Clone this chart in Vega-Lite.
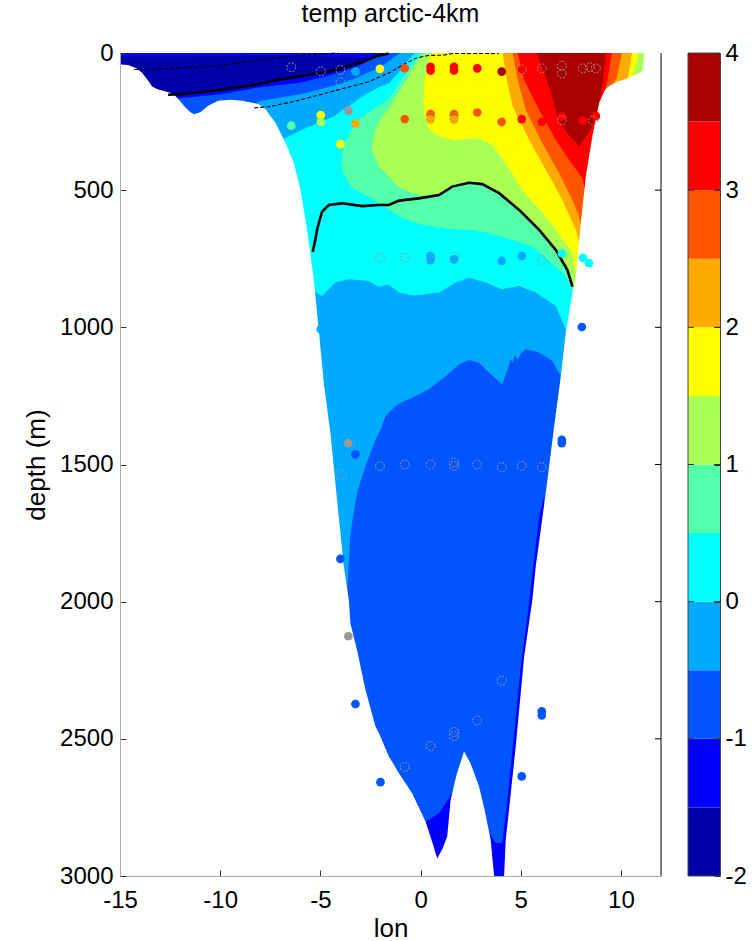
{
  "$schema": "https://vega.github.io/schema/vega-lite/v6.json",
  "background": "white",
  "padding": {"left": 23, "top": 2, "right": 0, "bottom": 0},
  "config": {"view": {"stroke": null}, "font": "Liberation Sans"},
  "datasets": {
    "bands": [
      {"b": "base", "lon": -15, "top": 0, "bot": 3000},
      {"b": "base", "lon": 11.17, "top": 0, "bot": 3000},
      {"b": "m1", "lon": -12.8, "top": 175, "bot": 3000},
      {"b": "m1", "lon": -12, "top": 165, "bot": 3000},
      {"b": "m1", "lon": -10, "top": 150, "bot": 3000},
      {"b": "m1", "lon": -8, "top": 125, "bot": 3000},
      {"b": "m1", "lon": -6, "top": 108, "bot": 3000},
      {"b": "m1", "lon": -5, "top": 90, "bot": 3000},
      {"b": "m1", "lon": -4, "top": 70, "bot": 3000},
      {"b": "m1", "lon": -3, "top": 45, "bot": 3000},
      {"b": "m1", "lon": -2.4, "top": 20, "bot": 3000},
      {"b": "m1", "lon": -1.8, "top": 0, "bot": 3000},
      {"b": "m1", "lon": 0.2, "top": 0, "bot": 3000},
      {"b": "m1", "lon": 0.25, "top": 0, "bot": 2802},
      {"b": "m1", "lon": 0.92, "top": 0, "bot": 2771},
      {"b": "m1", "lon": 1.5, "top": 0, "bot": 2707},
      {"b": "m1", "lon": 1.92, "top": 0, "bot": 2650},
      {"b": "m1", "lon": 2.17, "top": 0, "bot": 2640},
      {"b": "m1", "lon": 2.5, "top": 0, "bot": 2668},
      {"b": "m1", "lon": 2.92, "top": 0, "bot": 2747},
      {"b": "m1", "lon": 3.42, "top": 0, "bot": 2844},
      {"b": "m1", "lon": 3.75, "top": 0, "bot": 2880},
      {"b": "m1", "lon": 4.08, "top": 0, "bot": 2880},
      {"b": "m1", "lon": 4.33, "top": 0, "bot": 2723},
      {"b": "m1", "lon": 4.67, "top": 0, "bot": 2479},
      {"b": "m1", "lon": 5.0, "top": 0, "bot": 2236},
      {"b": "m1", "lon": 5.33, "top": 0, "bot": 2054},
      {"b": "m1", "lon": 5.92, "top": 0, "bot": 1688},
      {"b": "m1", "lon": 6.17, "top": 0, "bot": 1615},
      {"b": "m1", "lon": 6.25, "top": 0, "bot": 3000},
      {"b": "m1", "lon": 11.17, "top": 0, "bot": 3000},
      {"b": "m05", "lon": -8.6, "top": 200, "bot": 3000},
      {"b": "m05", "lon": -8.0, "top": 175, "bot": 3000},
      {"b": "m05", "lon": -7, "top": 162, "bot": 3000},
      {"b": "m05", "lon": -6, "top": 150, "bot": 3000},
      {"b": "m05", "lon": -5, "top": 132, "bot": 3000},
      {"b": "m05", "lon": -4, "top": 112, "bot": 3000},
      {"b": "m05", "lon": -3.7, "top": 104, "bot": 3000},
      {"b": "m05", "lon": -3.65, "top": 102, "bot": 1950},
      {"b": "m05", "lon": -3.5, "top": 98, "bot": 1749},
      {"b": "m05", "lon": -3.17, "top": 90, "bot": 1603},
      {"b": "m05", "lon": -2.75, "top": 75, "bot": 1506},
      {"b": "m05", "lon": -2.25, "top": 60, "bot": 1409},
      {"b": "m05", "lon": -2.0, "top": 50, "bot": 1375},
      {"b": "m05", "lon": -1.75, "top": 38, "bot": 1323},
      {"b": "m05", "lon": -1.5, "top": 25, "bot": 1305},
      {"b": "m05", "lon": -1.25, "top": 12, "bot": 1287},
      {"b": "m05", "lon": -1.0, "top": 0, "bot": 1275},
      {"b": "m05", "lon": -0.42, "top": 0, "bot": 1257},
      {"b": "m05", "lon": 0.42, "top": 0, "bot": 1226},
      {"b": "m05", "lon": 1.25, "top": 0, "bot": 1178},
      {"b": "m05", "lon": 1.92, "top": 0, "bot": 1135},
      {"b": "m05", "lon": 2.42, "top": 0, "bot": 1119},
      {"b": "m05", "lon": 2.92, "top": 0, "bot": 1129},
      {"b": "m05", "lon": 3.42, "top": 0, "bot": 1166},
      {"b": "m05", "lon": 4.08, "top": 0, "bot": 1208},
      {"b": "m05", "lon": 4.4, "top": 0, "bot": 1140},
      {"b": "m05", "lon": 4.5, "top": 0, "bot": 1115},
      {"b": "m05", "lon": 4.6, "top": 0, "bot": 1128},
      {"b": "m05", "lon": 4.7, "top": 0, "bot": 1100},
      {"b": "m05", "lon": 4.85, "top": 0, "bot": 1118},
      {"b": "m05", "lon": 5.0, "top": 0, "bot": 1095},
      {"b": "m05", "lon": 5.25, "top": 0, "bot": 1080},
      {"b": "m05", "lon": 5.92, "top": 0, "bot": 1092},
      {"b": "m05", "lon": 6.58, "top": 0, "bot": 1123},
      {"b": "m05", "lon": 7.0, "top": 0, "bot": 1178},
      {"b": "m05", "lon": 7.05, "top": 0, "bot": 3000},
      {"b": "m05", "lon": 11.17, "top": 0, "bot": 3000},
      {"b": "z0", "lon": -7.3, "top": 340, "bot": 3000},
      {"b": "z0", "lon": -6.92, "top": 317, "bot": 3000},
      {"b": "z0", "lon": -6.3, "top": 293, "bot": 3000},
      {"b": "z0", "lon": -5.58, "top": 269, "bot": 3000},
      {"b": "z0", "lon": -5.35, "top": 262, "bot": 3000},
      {"b": "z0", "lon": -5.28, "top": 260, "bot": 870},
      {"b": "z0", "lon": -4.92, "top": 250, "bot": 886},
      {"b": "z0", "lon": -4.25, "top": 228, "bot": 837},
      {"b": "z0", "lon": -3.92, "top": 208, "bot": 830},
      {"b": "z0", "lon": -3.58, "top": 195, "bot": 825},
      {"b": "z0", "lon": -2.92, "top": 159, "bot": 828},
      {"b": "z0", "lon": -2.58, "top": 145, "bot": 831},
      {"b": "z0", "lon": -2.08, "top": 125, "bot": 852},
      {"b": "z0", "lon": -1.58, "top": 110, "bot": 845},
      {"b": "z0", "lon": -1.08, "top": 70, "bot": 873},
      {"b": "z0", "lon": -0.6, "top": 25, "bot": 880},
      {"b": "z0", "lon": -0.3, "top": 0, "bot": 884},
      {"b": "z0", "lon": 0.92, "top": 0, "bot": 873},
      {"b": "z0", "lon": 1.75, "top": 0, "bot": 837},
      {"b": "z0", "lon": 2.42, "top": 0, "bot": 819},
      {"b": "z0", "lon": 3.25, "top": 0, "bot": 837},
      {"b": "z0", "lon": 4.08, "top": 0, "bot": 861},
      {"b": "z0", "lon": 4.92, "top": 0, "bot": 849},
      {"b": "z0", "lon": 5.75, "top": 0, "bot": 873},
      {"b": "z0", "lon": 6.75, "top": 0, "bot": 922},
      {"b": "z0", "lon": 7.25, "top": 0, "bot": 1007},
      {"b": "z0", "lon": 7.3, "top": 0, "bot": 3000},
      {"b": "z0", "lon": 11.17, "top": 0, "bot": 3000},
      {"b": "p05", "lon": -3.95, "top": 405, "bot": 405},
      {"b": "p05", "lon": -3.9, "top": 360, "bot": 430},
      {"b": "p05", "lon": -3.8, "top": 330, "bot": 445},
      {"b": "p05", "lon": -3.58, "top": 300, "bot": 475},
      {"b": "p05", "lon": -3.4, "top": 275, "bot": 492},
      {"b": "p05", "lon": -2.92, "top": 232, "bot": 512},
      {"b": "p05", "lon": -2.58, "top": 215, "bot": 524},
      {"b": "p05", "lon": -2.0, "top": 190, "bot": 552},
      {"b": "p05", "lon": -1.58, "top": 165, "bot": 570},
      {"b": "p05", "lon": -1.1, "top": 115, "bot": 595},
      {"b": "p05", "lon": -0.6, "top": 60, "bot": 610},
      {"b": "p05", "lon": -0.2, "top": 15, "bot": 620},
      {"b": "p05", "lon": 0.0, "top": 0, "bot": 625},
      {"b": "p05", "lon": 1.25, "top": 0, "bot": 640},
      {"b": "p05", "lon": 2.58, "top": 0, "bot": 645},
      {"b": "p05", "lon": 3.42, "top": 0, "bot": 657},
      {"b": "p05", "lon": 4.58, "top": 0, "bot": 681},
      {"b": "p05", "lon": 5.58, "top": 0, "bot": 705},
      {"b": "p05", "lon": 6.58, "top": 0, "bot": 766},
      {"b": "p05", "lon": 7.25, "top": 0, "bot": 815},
      {"b": "p05", "lon": 7.58, "top": 0, "bot": 863},
      {"b": "p05", "lon": 7.65, "top": 0, "bot": 3000},
      {"b": "p05", "lon": 11.17, "top": 0, "bot": 3000},
      {"b": "p1", "lon": -2.42, "top": 345, "bot": 345},
      {"b": "p1", "lon": -2.35, "top": 300, "bot": 370},
      {"b": "p1", "lon": -2.25, "top": 281, "bot": 385},
      {"b": "p1", "lon": -2.08, "top": 250, "bot": 414},
      {"b": "p1", "lon": -1.58, "top": 202, "bot": 451},
      {"b": "p1", "lon": -1.1, "top": 145, "bot": 488},
      {"b": "p1", "lon": -0.6, "top": 85, "bot": 505},
      {"b": "p1", "lon": -0.2, "top": 35, "bot": 515},
      {"b": "p1", "lon": 0.25, "top": 0, "bot": 520},
      {"b": "p1", "lon": 0.92, "top": 0, "bot": 515},
      {"b": "p1", "lon": 1.58, "top": 0, "bot": 487},
      {"b": "p1", "lon": 2.42, "top": 0, "bot": 473},
      {"b": "p1", "lon": 3.08, "top": 0, "bot": 478},
      {"b": "p1", "lon": 3.92, "top": 0, "bot": 511},
      {"b": "p1", "lon": 4.92, "top": 0, "bot": 572},
      {"b": "p1", "lon": 5.92, "top": 0, "bot": 645},
      {"b": "p1", "lon": 6.75, "top": 0, "bot": 718},
      {"b": "p1", "lon": 7.33, "top": 0, "bot": 791},
      {"b": "p1", "lon": 7.6, "top": 0, "bot": 850},
      {"b": "p1", "lon": 7.65, "top": 0, "bot": 3000},
      {"b": "p1", "lon": 11.17, "top": 0, "bot": 3000},
      {"b": "p15", "lon": 0.15, "top": 180, "bot": 180},
      {"b": "p15", "lon": 0.2, "top": 100, "bot": 225},
      {"b": "p15", "lon": 0.3, "top": 55, "bot": 255},
      {"b": "p15", "lon": 0.4, "top": 30, "bot": 272},
      {"b": "p15", "lon": 0.55, "top": 0, "bot": 285},
      {"b": "p15", "lon": 1.0, "top": 0, "bot": 305},
      {"b": "p15", "lon": 1.6, "top": 0, "bot": 317},
      {"b": "p15", "lon": 2.9, "top": 0, "bot": 311},
      {"b": "p15", "lon": 3.6, "top": 0, "bot": 335},
      {"b": "p15", "lon": 4.25, "top": 0, "bot": 402},
      {"b": "p15", "lon": 5.08, "top": 0, "bot": 499},
      {"b": "p15", "lon": 6.25, "top": 0, "bot": 596},
      {"b": "p15", "lon": 7.25, "top": 0, "bot": 694},
      {"b": "p15", "lon": 7.6, "top": 0, "bot": 730},
      {"b": "p15", "lon": 7.8, "top": 0, "bot": 830},
      {"b": "p15", "lon": 8.0, "top": 0, "bot": 700},
      {"b": "p15", "lon": 8.25, "top": 0, "bot": 520},
      {"b": "p15", "lon": 8.6, "top": 0, "bot": 350},
      {"b": "p15", "lon": 8.9, "top": 0, "bot": 230},
      {"b": "p15", "lon": 9.4, "top": 0, "bot": 160},
      {"b": "p15", "lon": 10.25, "top": 0, "bot": 130},
      {"b": "p15", "lon": 10.6, "top": 0, "bot": 80},
      {"b": "p15", "lon": 10.9, "top": 0, "bot": 0},
      {"b": "p2", "lon": 4.1, "top": 0, "bot": 0},
      {"b": "p2", "lon": 4.3, "top": 0, "bot": 98},
      {"b": "p2", "lon": 4.6, "top": 0, "bot": 196},
      {"b": "p2", "lon": 5.42, "top": 0, "bot": 317},
      {"b": "p2", "lon": 6.25, "top": 0, "bot": 426},
      {"b": "p2", "lon": 7.08, "top": 0, "bot": 536},
      {"b": "p2", "lon": 7.75, "top": 0, "bot": 645},
      {"b": "p2", "lon": 7.95, "top": 0, "bot": 700},
      {"b": "p2", "lon": 8.25, "top": 0, "bot": 520},
      {"b": "p2", "lon": 8.58, "top": 0, "bot": 350},
      {"b": "p2", "lon": 8.92, "top": 0, "bot": 230},
      {"b": "p2", "lon": 9.42, "top": 0, "bot": 160},
      {"b": "p2", "lon": 10.25, "top": 0, "bot": 125},
      {"b": "p2", "lon": 10.4, "top": 0, "bot": 70},
      {"b": "p2", "lon": 10.55, "top": 0, "bot": 0},
      {"b": "p25", "lon": 4.6, "top": 0, "bot": 0},
      {"b": "p25", "lon": 4.85, "top": 0, "bot": 98},
      {"b": "p25", "lon": 5.25, "top": 0, "bot": 208},
      {"b": "p25", "lon": 6.08, "top": 0, "bot": 329},
      {"b": "p25", "lon": 6.92, "top": 0, "bot": 439},
      {"b": "p25", "lon": 7.58, "top": 0, "bot": 536},
      {"b": "p25", "lon": 7.92, "top": 0, "bot": 597},
      {"b": "p25", "lon": 8.05, "top": 0, "bot": 640},
      {"b": "p25", "lon": 8.25, "top": 0, "bot": 500},
      {"b": "p25", "lon": 8.58, "top": 0, "bot": 330},
      {"b": "p25", "lon": 8.92, "top": 0, "bot": 210},
      {"b": "p25", "lon": 9.42, "top": 0, "bot": 140},
      {"b": "p25", "lon": 9.8, "top": 0, "bot": 90},
      {"b": "p25", "lon": 10.05, "top": 0, "bot": 0},
      {"b": "p3", "lon": 4.85, "top": 0, "bot": 0},
      {"b": "p3", "lon": 5.17, "top": 0, "bot": 98},
      {"b": "p3", "lon": 5.92, "top": 0, "bot": 208},
      {"b": "p3", "lon": 6.75, "top": 0, "bot": 317},
      {"b": "p3", "lon": 7.42, "top": 0, "bot": 390},
      {"b": "p3", "lon": 8.08, "top": 0, "bot": 457},
      {"b": "p3", "lon": 8.2, "top": 0, "bot": 500},
      {"b": "p3", "lon": 8.58, "top": 0, "bot": 320},
      {"b": "p3", "lon": 8.92, "top": 0, "bot": 195},
      {"b": "p3", "lon": 9.25, "top": 0, "bot": 125},
      {"b": "p3", "lon": 9.4, "top": 0, "bot": 70},
      {"b": "p3", "lon": 9.55, "top": 0, "bot": 0},
      {"b": "p35", "lon": 5.8, "top": 0, "bot": 0},
      {"b": "p35", "lon": 6.08, "top": 0, "bot": 55},
      {"b": "p35", "lon": 6.5, "top": 0, "bot": 140},
      {"b": "p35", "lon": 6.85, "top": 0, "bot": 240},
      {"b": "p35", "lon": 7.4, "top": 0, "bot": 300},
      {"b": "p35", "lon": 7.92, "top": 0, "bot": 340},
      {"b": "p35", "lon": 8.4, "top": 0, "bot": 290},
      {"b": "p35", "lon": 8.75, "top": 0, "bot": 240},
      {"b": "p35", "lon": 9.0, "top": 0, "bot": 150},
      {"b": "p35", "lon": 9.15, "top": 0, "bot": 70},
      {"b": "p35", "lon": 9.25, "top": 0, "bot": 0},
      {"b": "navy", "lon": -15, "top": 12, "bot": 60},
      {"b": "navy", "lon": -14.3, "top": 12, "bot": 70},
      {"b": "navy", "lon": -13.9, "top": 12, "bot": 90},
      {"b": "navy", "lon": -13.4, "top": 12, "bot": 140},
      {"b": "navy", "lon": -12.9, "top": 12, "bot": 150},
      {"b": "navy", "lon": -12.6, "top": 12, "bot": 152},
      {"b": "navy", "lon": -12, "top": 12, "bot": 150},
      {"b": "navy", "lon": -11, "top": 11, "bot": 143},
      {"b": "navy", "lon": -10, "top": 11, "bot": 135},
      {"b": "navy", "lon": -9, "top": 11, "bot": 124},
      {"b": "navy", "lon": -8, "top": 10, "bot": 113},
      {"b": "navy", "lon": -7.3, "top": 10, "bot": 100},
      {"b": "navy", "lon": -6, "top": 10, "bot": 85},
      {"b": "navy", "lon": -5, "top": 11, "bot": 73},
      {"b": "navy", "lon": -4.5, "top": 12, "bot": 66},
      {"b": "navy", "lon": -4, "top": 13, "bot": 57},
      {"b": "navy", "lon": -3, "top": 15, "bot": 35},
      {"b": "navy", "lon": -2.4, "top": 20, "bot": 20}
    ],
    "floor": [
      {"lon": -15, "d": 42}, {"lon": -14.6, "d": 44}, {"lon": -14.2, "d": 55}, {"lon": -13.9, "d": 72},
      {"lon": -13.6, "d": 100}, {"lon": -13.4, "d": 122}, {"lon": -13.1, "d": 133}, {"lon": -12.9, "d": 137},
      {"lon": -12.5, "d": 145}, {"lon": -12.25, "d": 156}, {"lon": -12.0, "d": 175}, {"lon": -11.75, "d": 198},
      {"lon": -11.5, "d": 215}, {"lon": -11.3, "d": 223}, {"lon": -11.0, "d": 216}, {"lon": -10.8, "d": 205},
      {"lon": -10.6, "d": 192}, {"lon": -10.1, "d": 174}, {"lon": -9.5, "d": 170}, {"lon": -8.9, "d": 174},
      {"lon": -8.1, "d": 186}, {"lon": -7.75, "d": 204}, {"lon": -7.25, "d": 253}, {"lon": -6.75, "d": 326},
      {"lon": -6.33, "d": 399}, {"lon": -6.0, "d": 496}, {"lon": -5.67, "d": 642}, {"lon": -5.33, "d": 825},
      {"lon": -5.1, "d": 995}, {"lon": -4.83, "d": 1202}, {"lon": -4.5, "d": 1384}, {"lon": -4.17, "d": 1628},
      {"lon": -3.83, "d": 1871}, {"lon": -3.58, "d": 1994}, {"lon": -3.5, "d": 2080}, {"lon": -3.17, "d": 2176},
      {"lon": -2.75, "d": 2321}, {"lon": -2.25, "d": 2455}, {"lon": -2.08, "d": 2479}, {"lon": -1.58, "d": 2564},
      {"lon": -1.08, "d": 2625}, {"lon": -0.42, "d": 2698}, {"lon": 0.25, "d": 2802}, {"lon": 0.6, "d": 2880},
      {"lon": 0.83, "d": 2936}, {"lon": 1.1, "d": 2900}, {"lon": 1.33, "d": 2856}, {"lon": 1.5, "d": 2723},
      {"lon": 1.8, "d": 2630}, {"lon": 2.17, "d": 2546}, {"lon": 2.5, "d": 2590}, {"lon": 2.92, "d": 2674},
      {"lon": 3.2, "d": 2760}, {"lon": 3.5, "d": 2869}, {"lon": 3.67, "d": 3000}, {"lon": 4.17, "d": 3000},
      {"lon": 4.25, "d": 2869}, {"lon": 4.5, "d": 2700}, {"lon": 4.75, "d": 2528}, {"lon": 5.17, "d": 2200},
      {"lon": 5.58, "d": 1993}, {"lon": 5.75, "d": 1871}, {"lon": 6.25, "d": 1603}, {"lon": 6.67, "d": 1360},
      {"lon": 7.0, "d": 1178}, {"lon": 7.25, "d": 1019}, {"lon": 7.5, "d": 910}, {"lon": 7.75, "d": 813},
      {"lon": 8.0, "d": 618}, {"lon": 8.25, "d": 448}, {"lon": 8.58, "d": 302}, {"lon": 8.92, "d": 180},
      {"lon": 9.2, "d": 135}, {"lon": 9.42, "d": 119}, {"lon": 9.8, "d": 105}, {"lon": 10.25, "d": 95},
      {"lon": 10.7, "d": 80}, {"lon": 11.08, "d": 65}, {"lon": 11.17, "d": 0}, {"lon": 12, "d": 0}
    ],
    "lines": [
      {"id": "A", "lon": -12.6, "depth": 152}, {"id": "A", "lon": -12, "depth": 150}, {"id": "A", "lon": -11, "depth": 143},
      {"id": "A", "lon": -10, "depth": 135}, {"id": "A", "lon": -9, "depth": 124}, {"id": "A", "lon": -8, "depth": 113},
      {"id": "A", "lon": -7.3, "depth": 100}, {"id": "A", "lon": -6, "depth": 85}, {"id": "A", "lon": -5, "depth": 73},
      {"id": "A", "lon": -4.5, "depth": 66}, {"id": "A", "lon": -4, "depth": 57}, {"id": "A", "lon": -3, "depth": 35},
      {"id": "A", "lon": -2.2, "depth": 12}, {"id": "A", "lon": -1.6, "depth": 2},
      {"id": "D", "lon": -5.38, "depth": 725}, {"id": "D", "lon": -5.25, "depth": 680}, {"id": "D", "lon": -5.17, "depth": 645},
      {"id": "D", "lon": -4.92, "depth": 579}, {"id": "D", "lon": -4.58, "depth": 554}, {"id": "D", "lon": -3.92, "depth": 548},
      {"id": "D", "lon": -2.92, "depth": 558}, {"id": "D", "lon": -2.08, "depth": 554}, {"id": "D", "lon": -1.58, "depth": 554},
      {"id": "D", "lon": -1.08, "depth": 538}, {"id": "D", "lon": -0.08, "depth": 530}, {"id": "D", "lon": 0.92, "depth": 518},
      {"id": "D", "lon": 1.58, "depth": 487}, {"id": "D", "lon": 2.42, "depth": 473}, {"id": "D", "lon": 3.08, "depth": 478},
      {"id": "D", "lon": 3.92, "depth": 511}, {"id": "D", "lon": 4.92, "depth": 572}, {"id": "D", "lon": 5.92, "depth": 645},
      {"id": "D", "lon": 6.75, "depth": 718}, {"id": "D", "lon": 7.33, "depth": 791}, {"id": "D", "lon": 7.58, "depth": 852},
      {"id": "B", "lon": -14.3, "depth": 60}, {"id": "B", "lon": -13, "depth": 58}, {"id": "B", "lon": -12, "depth": 55},
      {"id": "B", "lon": -10, "depth": 45}, {"id": "B", "lon": -8.5, "depth": 30}, {"id": "B", "lon": -7.3, "depth": 19},
      {"id": "B", "lon": -6, "depth": 8}, {"id": "B", "lon": -4.7, "depth": 2}, {"id": "B", "lon": -4.1, "depth": 0.5},
      {"id": "C", "lon": -8.3, "depth": 200}, {"id": "C", "lon": -7.6, "depth": 196}, {"id": "C", "lon": -6.5, "depth": 180},
      {"id": "C", "lon": -5, "depth": 152}, {"id": "C", "lon": -4, "depth": 132}, {"id": "C", "lon": -2.6, "depth": 105},
      {"id": "C", "lon": -1.5, "depth": 70}, {"id": "C", "lon": -0.9, "depth": 44}, {"id": "C", "lon": -0.2, "depth": 18},
      {"id": "C", "lon": 0.4, "depth": 9}, {"id": "C", "lon": 1.1, "depth": 8}, {"id": "C", "lon": 1.6, "depth": 2},
      {"id": "C", "lon": 3.9, "depth": 2}
    ],
    "obs": [
      {"k": "f", "lon": -3.25, "depth": 68, "t": -0.25}, {"k": "f", "lon": -2.03, "depth": 58, "t": 1.75},
      {"k": "f", "lon": -0.79, "depth": 56, "t": 2.75}, {"k": "f", "lon": 0.5, "depth": 50, "t": 3.25},
      {"k": "f", "lon": 0.5, "depth": 64, "t": 3.25}, {"k": "f", "lon": 1.67, "depth": 50, "t": 3.25},
      {"k": "f", "lon": 1.67, "depth": 64, "t": 3.25}, {"k": "f", "lon": 2.83, "depth": 56, "t": 3.25},
      {"k": "f", "lon": 4.05, "depth": 68, "t": 3.75}, {"k": "f", "lon": 5.05, "depth": 60, "t": 3.25},
      {"k": "f", "lon": -6.45, "depth": 265, "t": 0.75}, {"k": "f", "lon": -4.98, "depth": 226, "t": 1.75},
      {"k": "f", "lon": -4.98, "depth": 251, "t": 1.25}, {"k": "f", "lon": -3.25, "depth": 257, "t": 2.25},
      {"k": "f", "lon": -4.0, "depth": 332, "t": 1.75}, {"k": "f", "lon": -0.79, "depth": 241, "t": 2.75},
      {"k": "f", "lon": 0.5, "depth": 223, "t": 2.75}, {"k": "f", "lon": 0.5, "depth": 243, "t": 2.25},
      {"k": "f", "lon": 1.67, "depth": 223, "t": 2.75}, {"k": "f", "lon": 1.67, "depth": 243, "t": 2.25},
      {"k": "f", "lon": 2.83, "depth": 217, "t": 2.75}, {"k": "f", "lon": 4.05, "depth": 251, "t": 2.75},
      {"k": "f", "lon": 5.05, "depth": 241, "t": 3.25}, {"k": "f", "lon": 6.05, "depth": 251, "t": 3.25},
      {"k": "f", "lon": 7.05, "depth": 232, "t": 3.25}, {"k": "f", "lon": 8.1, "depth": 246, "t": 3.25},
      {"k": "f", "lon": 8.75, "depth": 230, "t": 3.25},
      {"k": "f", "lon": 0.5, "depth": 740, "t": -0.25}, {"k": "f", "lon": 0.5, "depth": 755, "t": -0.25},
      {"k": "f", "lon": 1.67, "depth": 738, "t": 0.25}, {"k": "f", "lon": 1.67, "depth": 752, "t": -0.25},
      {"k": "f", "lon": 4.05, "depth": 758, "t": -0.25}, {"k": "f", "lon": 5.05, "depth": 740, "t": -0.25},
      {"k": "f", "lon": 6.05, "depth": 755, "t": 0.25}, {"k": "f", "lon": 7.05, "depth": 730, "t": 0.25},
      {"k": "f", "lon": 8.1, "depth": 747, "t": 0.25}, {"k": "f", "lon": 8.4, "depth": 766, "t": 0.25},
      {"k": "f", "lon": -4.98, "depth": 1007, "t": -0.25}, {"k": "f", "lon": 8.05, "depth": 999, "t": -0.75},
      {"k": "f", "lon": 7.05, "depth": 1410, "t": -0.75}, {"k": "f", "lon": 7.05, "depth": 1422, "t": -0.75},
      {"k": "f", "lon": -3.25, "depth": 1463, "t": -0.75}, {"k": "f", "lon": -4.0, "depth": 1844, "t": -0.75},
      {"k": "f", "lon": -3.25, "depth": 2373, "t": -0.75}, {"k": "f", "lon": -2.0, "depth": 2658, "t": -0.75},
      {"k": "f", "lon": 5.05, "depth": 2637, "t": -0.75}, {"k": "f", "lon": 6.05, "depth": 2400, "t": -0.75},
      {"k": "f", "lon": 6.05, "depth": 2415, "t": -0.75},
      {"k": "g", "lon": -3.6, "depth": 210}, {"k": "g", "lon": -3.6, "depth": 1423}, {"k": "g", "lon": -3.6, "depth": 2126},
      {"k": "o", "lon": -6.45, "depth": 52}, {"k": "o", "lon": -4.98, "depth": 67}, {"k": "o", "lon": -4.0, "depth": 62},
      {"k": "o", "lon": -4.0, "depth": 107}, {"k": "o", "lon": 5.05, "depth": 60}, {"k": "o", "lon": 6.05, "depth": 56},
      {"k": "o", "lon": 7.05, "depth": 47}, {"k": "o", "lon": 7.05, "depth": 75}, {"k": "o", "lon": 8.1, "depth": 56},
      {"k": "o", "lon": 8.45, "depth": 52}, {"k": "o", "lon": 8.75, "depth": 56}, {"k": "o", "lon": 7.05, "depth": 245},
      {"k": "o", "lon": 8.6, "depth": 246}, {"k": "o", "lon": 0.5, "depth": 233}, {"k": "o", "lon": 1.67, "depth": 233},
      {"k": "o", "lon": -2.03, "depth": 747}, {"k": "o", "lon": -0.79, "depth": 747}, {"k": "o", "lon": 0.5, "depth": 747},
      {"k": "o", "lon": 1.67, "depth": 745}, {"k": "o", "lon": 6.05, "depth": 755},
      {"k": "o", "lon": -4.0, "depth": 1540}, {"k": "o", "lon": -2.03, "depth": 1506}, {"k": "o", "lon": -0.79, "depth": 1500},
      {"k": "o", "lon": 0.5, "depth": 1500}, {"k": "o", "lon": 1.67, "depth": 1493}, {"k": "o", "lon": 1.67, "depth": 1505},
      {"k": "o", "lon": 2.83, "depth": 1500}, {"k": "o", "lon": 4.05, "depth": 1510}, {"k": "o", "lon": 5.05, "depth": 1505},
      {"k": "o", "lon": 6.05, "depth": 1510},
      {"k": "o", "lon": -0.79, "depth": 2603}, {"k": "o", "lon": 0.5, "depth": 2526}, {"k": "o", "lon": 1.67, "depth": 2475},
      {"k": "o", "lon": 1.67, "depth": 2490}, {"k": "o", "lon": 2.83, "depth": 2433}, {"k": "o", "lon": 4.05, "depth": 2288}
    ],
    "cbar": [
      {"lo": -2, "hi": -1.5, "t": -1.75}, {"lo": -1.5, "hi": -1, "t": -1.25}, {"lo": -1, "hi": -0.5, "t": -0.75},
      {"lo": -0.5, "hi": 0, "t": -0.25}, {"lo": 0, "hi": 0.5, "t": 0.25}, {"lo": 0.5, "hi": 1, "t": 0.75},
      {"lo": 1, "hi": 1.5, "t": 1.25}, {"lo": 1.5, "hi": 2, "t": 1.75}, {"lo": 2, "hi": 2.5, "t": 2.25},
      {"lo": 2.5, "hi": 3, "t": 2.75}, {"lo": 3, "hi": 3.5, "t": 3.25}, {"lo": 3.5, "hi": 4, "t": 3.75}
    ]
  },
  "hconcat": [
    {
      "width": 541,
      "height": 823,
      "title": {"text": "temp arctic-4km", "frame": "group", "anchor": "middle", "fontSize": 25, "fontWeight": "normal", "font": "Liberation Sans", "baseline": "alphabetic", "offset": -6, "color": "#000"},
      "layer": [
        {
          "data": {"name": "bands"},
          "transform": [{"filter": "datum.b == 'base'"}],
          "mark": {"type": "area", "color": "#0000ff"},
          "encoding": {
            "x": {"field": "lon", "type": "quantitative", "scale": {"domain": [-15, 12], "nice": false, "zero": false},
                  "axis": {"values": [-15, -10, -5, 0, 5, 10], "labelExpr": "'' + datum.value", "title": "lon", "grid": false, "tickSize": -6, "labelPadding": 18, "titlePadding": 3,
                           "labelFlush": false, "labelFontSize": 24, "titleFontSize": 26, "titleFontWeight": "normal", "labelColor": "#000", "titleColor": "#000",
                           "domainColor": "#aaaaaa", "tickColor": "#333", "zindex": 1, "labelFont": "Liberation Sans", "titleFont": "Liberation Sans"}},
            "y": {"field": "top", "type": "quantitative", "scale": {"domain": [0, 3000], "reverse": true, "nice": false, "zero": false},
                  "axis": {"orient": "left", "values": [0, 500, 1000, 1500, 2000, 2500, 3000], "labelExpr": "'' + datum.value", "title": "depth (m)", "grid": false, "tickSize": -6, "labelPadding": 13, "titlePadding": 10,
                           "labelFontSize": 24, "titleFontSize": 26, "titleFontWeight": "normal", "labelColor": "#000", "titleColor": "#000",
                           "domainColor": "#aaaaaa", "tickColor": "#333", "zindex": 1, "labelFont": "Liberation Sans", "titleFont": "Liberation Sans"}},
            "y2": {"field": "bot"}
          }
        },
        {"data": {"name": "bands"}, "transform": [{"filter": "datum.b == 'm1'"}], "mark": {"type": "area", "color": "#0055ff"},
         "encoding": {"x": {"field": "lon", "type": "quantitative"}, "y": {"field": "top", "type": "quantitative"}, "y2": {"field": "bot"}}},
        {"data": {"name": "bands"}, "transform": [{"filter": "datum.b == 'm05'"}], "mark": {"type": "area", "color": "#00aaff"},
         "encoding": {"x": {"field": "lon", "type": "quantitative"}, "y": {"field": "top", "type": "quantitative"}, "y2": {"field": "bot"}}},
        {"data": {"name": "bands"}, "transform": [{"filter": "datum.b == 'z0'"}], "mark": {"type": "area", "color": "#00ffff"},
         "encoding": {"x": {"field": "lon", "type": "quantitative"}, "y": {"field": "top", "type": "quantitative"}, "y2": {"field": "bot"}}},
        {"data": {"name": "bands"}, "transform": [{"filter": "datum.b == 'p05'"}], "mark": {"type": "area", "color": "#55ffaa"},
         "encoding": {"x": {"field": "lon", "type": "quantitative"}, "y": {"field": "top", "type": "quantitative"}, "y2": {"field": "bot"}}},
        {"data": {"name": "bands"}, "transform": [{"filter": "datum.b == 'p1'"}], "mark": {"type": "area", "color": "#aaff55"},
         "encoding": {"x": {"field": "lon", "type": "quantitative"}, "y": {"field": "top", "type": "quantitative"}, "y2": {"field": "bot"}}},
        {"data": {"name": "bands"}, "transform": [{"filter": "datum.b == 'p15'"}], "mark": {"type": "area", "color": "#ffff00"},
         "encoding": {"x": {"field": "lon", "type": "quantitative"}, "y": {"field": "top", "type": "quantitative"}, "y2": {"field": "bot"}}},
        {"data": {"name": "bands"}, "transform": [{"filter": "datum.b == 'p2'"}], "mark": {"type": "area", "color": "#ffaa00"},
         "encoding": {"x": {"field": "lon", "type": "quantitative"}, "y": {"field": "top", "type": "quantitative"}, "y2": {"field": "bot"}}},
        {"data": {"name": "bands"}, "transform": [{"filter": "datum.b == 'p25'"}], "mark": {"type": "area", "color": "#ff5500"},
         "encoding": {"x": {"field": "lon", "type": "quantitative"}, "y": {"field": "top", "type": "quantitative"}, "y2": {"field": "bot"}}},
        {"data": {"name": "bands"}, "transform": [{"filter": "datum.b == 'p3'"}], "mark": {"type": "area", "color": "#ff0000"},
         "encoding": {"x": {"field": "lon", "type": "quantitative"}, "y": {"field": "top", "type": "quantitative"}, "y2": {"field": "bot"}}},
        {"data": {"name": "bands"}, "transform": [{"filter": "datum.b == 'p35'"}], "mark": {"type": "area", "color": "#aa0000"},
         "encoding": {"x": {"field": "lon", "type": "quantitative"}, "y": {"field": "top", "type": "quantitative"}, "y2": {"field": "bot"}}},
        {"data": {"name": "bands"}, "transform": [{"filter": "datum.b == 'navy'"}], "mark": {"type": "area", "color": "#0000aa"},
         "encoding": {"x": {"field": "lon", "type": "quantitative"}, "y": {"field": "top", "type": "quantitative"}, "y2": {"field": "bot"}}},
        {"data": {"name": "floor"}, "mark": {"type": "area", "color": "white"},
         "encoding": {"x": {"field": "lon", "type": "quantitative"}, "y": {"field": "d", "type": "quantitative"}, "y2": {"datum": 3000}}},
        {"data": {"name": "lines"}, "transform": [{"filter": "datum.id == 'A' || datum.id == 'D'"}], "mark": {"type": "line", "color": "#000", "strokeWidth": 2.6},
         "encoding": {"x": {"field": "lon", "type": "quantitative"}, "y": {"field": "depth", "type": "quantitative"}, "detail": {"field": "id"}}},
        {"data": {"name": "lines"}, "transform": [{"filter": "datum.id == 'B' || datum.id == 'C'"}], "mark": {"type": "line", "color": "#000", "strokeWidth": 1.1, "strokeDash": [4, 2]},
         "encoding": {"x": {"field": "lon", "type": "quantitative"}, "y": {"field": "depth", "type": "quantitative"}, "detail": {"field": "id"}}},
        {"data": {"name": "obs"}, "transform": [{"filter": "datum.k == 'f'"}], "mark": {"type": "point", "filled": true, "size": 75, "opacity": 1, "shape": "circle"},
         "encoding": {"x": {"field": "lon", "type": "quantitative"}, "y": {"field": "depth", "type": "quantitative"},
                      "color": {"field": "t", "type": "quantitative", "legend": null,
                                "scale": {"type": "threshold", "domain": [-1.5, -1, -0.5, 0, 0.5, 1, 1.5, 2, 2.5, 3, 3.5],
                                          "range": ["#0000aa", "#0000ff", "#0055ff", "#00aaff", "#00ffff", "#55ffaa", "#aaff55", "#ffff00", "#ffaa00", "#ff5500", "#ff0000", "#aa0000"]}}}},
        {"data": {"name": "obs"}, "transform": [{"filter": "datum.k == 'g'"}], "mark": {"type": "point", "filled": true, "size": 75, "opacity": 1, "shape": "circle", "color": "#999999"},
         "encoding": {"x": {"field": "lon", "type": "quantitative"}, "y": {"field": "depth", "type": "quantitative"}}},
        {"data": {"name": "obs"}, "transform": [{"filter": "datum.k == 'o'"}], "mark": {"type": "point", "filled": false, "size": 80, "opacity": 1, "shape": "circle", "stroke": "#999999", "strokeWidth": 1, "strokeDash": [2, 1.5]},
         "encoding": {"x": {"field": "lon", "type": "quantitative"}, "y": {"field": "depth", "type": "quantitative"}}},
        {"data": {"values": [{}]}, "mark": {"type": "rule", "color": "#000", "strokeWidth": 1},
         "encoding": {"x": {"datum": 12}, "y": {"datum": 0}, "y2": {"datum": 3000}}},
        {"data": {"values": [{"v": 500}, {"v": 1000}, {"v": 1500}, {"v": 2000}, {"v": 2500}]}, "mark": {"type": "rule", "color": "#000", "strokeWidth": 1},
         "encoding": {"x": {"datum": 11.7}, "x2": {"datum": 12}, "y": {"field": "v", "type": "quantitative"}}}
      ]
    },
    {
      "width": 32,
      "height": 823,
      "layer": [
        {
          "data": {"name": "cbar"},
          "mark": {"type": "rect"},
          "encoding": {
            "x": {"datum": 0, "type": "quantitative", "scale": {"domain": [0, 1], "nice": false, "zero": false}, "axis": null},
            "x2": {"datum": 1},
            "y": {"field": "lo", "type": "quantitative", "scale": {"domain": [-2, 4], "nice": false, "zero": false},
                  "axis": {"orient": "right", "title": null, "grid": false, "tickSize": -6, "labelPadding": 11, "values": [-2, -1, 0, 1, 2, 3, 4], "labelExpr": "'' + datum.value", "labelFontSize": 24, "labelColor": "#000", "labelFont": "Liberation Sans", "domainColor": "#444", "tickColor": "#333", "zindex": 1}},
            "y2": {"field": "hi"},
            "color": {"field": "t", "type": "quantitative", "legend": null,
                      "scale": {"type": "threshold", "domain": [-1.5, -1, -0.5, 0, 0.5, 1, 1.5, 2, 2.5, 3, 3.5],
                                "range": ["#0000aa", "#0000ff", "#0055ff", "#00aaff", "#00ffff", "#55ffaa", "#aaff55", "#ffff00", "#ffaa00", "#ff5500", "#ff0000", "#aa0000"]}}
          }
        },
        {
          "data": {"values": [{}]},
          "mark": {"type": "rule", "color": "#444", "strokeWidth": 1},
          "encoding": {"x": {"datum": 0, "type": "quantitative"}, "y": {"datum": -2, "type": "quantitative"}, "y2": {"datum": 4}}
        },
        {
          "data": {"values": [{"v": -2}, {"v": 4}]},
          "mark": {"type": "rule", "color": "#444", "strokeWidth": 1},
          "encoding": {"x": {"datum": 0, "type": "quantitative"}, "x2": {"datum": 1}, "y": {"field": "v", "type": "quantitative"}}
        },
        {
          "data": {"values": [{"v": -1}, {"v": 0}, {"v": 1}, {"v": 2}, {"v": 3}]},
          "mark": {"type": "rule", "color": "#333", "strokeWidth": 1, "strokeDash": [6, 20]},
          "encoding": {"x": {"datum": 0, "type": "quantitative"}, "x2": {"datum": 1}, "y": {"field": "v", "type": "quantitative"}}
        }
      ]
    }
  ],
  "spacing": 25
}
